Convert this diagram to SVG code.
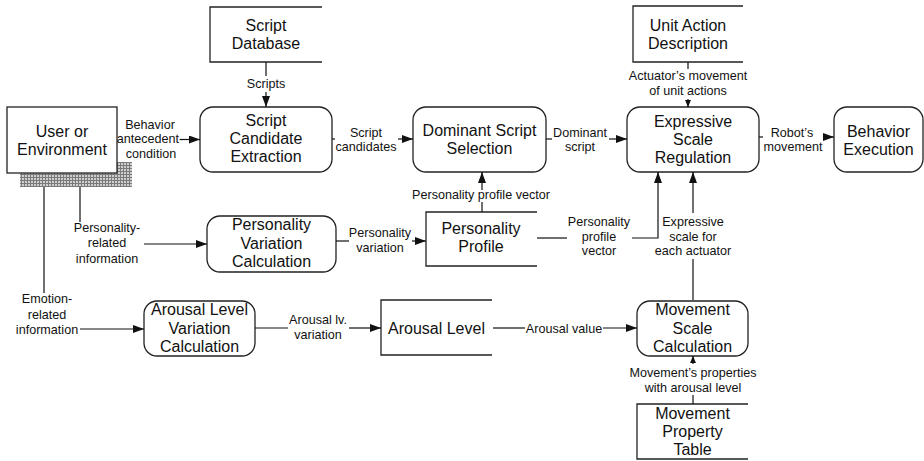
<svg xmlns="http://www.w3.org/2000/svg" width="924" height="461" viewBox="0 0 924 461">
<defs>
<style>
.box{fill:#fff;stroke:#222;stroke-width:1.3}
.ds{fill:none;stroke:#222;stroke-width:1.3}
.big{font-family:"Liberation Sans",Arial,sans-serif;font-size:16px;fill:#111;text-anchor:middle}
.lbl{font-family:"Liberation Sans",Arial,sans-serif;font-size:12.6px;fill:#111;text-anchor:middle}
.ln{fill:none;stroke:#111;stroke-width:1.2}
.ar{fill:none;stroke:#111;stroke-width:1.2;marker-end:url(#ah)}
.ars{fill:none;stroke:#111;stroke-width:1.2;marker-end:url(#ahs)}
</style>
<marker id="ah" markerUnits="userSpaceOnUse" markerWidth="12" markerHeight="9" refX="11" refY="4" orient="auto">
<path d="M0,0 L11,4 L0,8 z" fill="#111"/>
</marker>
<marker id="ahs" markerUnits="userSpaceOnUse" markerWidth="9" markerHeight="7" refX="7" refY="3" orient="auto">
<path d="M0,0 L7,3 L0,6 z" fill="#111"/>
</marker>
<pattern id="hatch" width="3" height="3" patternUnits="userSpaceOnUse">
<rect width="3" height="3" fill="#cfcfcf"/>
<rect width="3" height="1" fill="#7a7a7a"/>
<rect width="1" height="3" fill="#7a7a7a"/>
</pattern>
</defs>

<g id="user-env">
<rect x="20" y="162" width="112" height="25" fill="url(#hatch)"/>
<rect class="box" x="7" y="107" width="110" height="66"/>
<text class="big" x="62" y="137">User or</text>
<text class="big" x="62" y="155">Environment</text>
</g>

<g id="script-db">
<path class="ds" d="M322,7 H210 V62 H322"/>
<text class="big" x="266" y="31">Script</text>
<text class="big" x="266" y="49">Database</text>
</g>

<g id="script-candidate">
<rect class="box" x="200" y="107" width="132" height="65" rx="13"/>
<text class="big" x="266" y="126">Script</text>
<text class="big" x="266" y="144">Candidate</text>
<text class="big" x="266" y="162">Extraction</text>
</g>

<g id="dominant-script">
<rect class="box" x="413" y="107" width="133" height="65" rx="13"/>
<text class="big" x="479.5" y="136">Dominant Script</text>
<text class="big" x="479.5" y="154">Selection</text>
</g>

<g id="unit-action">
<path class="ds" d="M743,6 H633 V62 H743"/>
<text class="big" x="688" y="31">Unit Action</text>
<text class="big" x="688" y="49">Description</text>
</g>

<g id="expressive-scale">
<rect class="box" x="627" y="107" width="132" height="65" rx="13"/>
<text class="big" x="693" y="127">Expressive</text>
<text class="big" x="693" y="145">Scale</text>
<text class="big" x="693" y="163">Regulation</text>
</g>

<g id="behavior-exec">
<rect class="box" x="834" y="107" width="89" height="65" rx="13"/>
<text class="big" x="878.5" y="136.5">Behavior</text>
<text class="big" x="878.5" y="154.5">Execution</text>
</g>

<g id="personality-variation">
<rect class="box" x="207" y="216" width="129" height="56" rx="13"/>
<text class="big" x="271.5" y="230">Personality</text>
<text class="big" x="271.5" y="248.5">Variation</text>
<text class="big" x="271.5" y="267">Calculation</text>
</g>

<g id="personality-profile">
<path class="ds" d="M537,212 H426 V266 H537"/>
<text class="big" x="481" y="234">Personality</text>
<text class="big" x="481" y="252">Profile</text>
</g>

<g id="arousal-variation">
<rect class="box" x="144" y="301" width="111" height="55" rx="13"/>
<text class="big" x="199.5" y="315">Arousal Level</text>
<text class="big" x="199.5" y="333.5">Variation</text>
<text class="big" x="199.5" y="352">Calculation</text>
</g>

<g id="arousal-level">
<path class="ds" d="M492,300 H381 V355 H492"/>
<text class="big" x="436.5" y="334">Arousal Level</text>
</g>

<g id="movement-scale">
<rect class="box" x="637" y="301" width="111" height="55" rx="13"/>
<text class="big" x="692.5" y="315">Movement</text>
<text class="big" x="692.5" y="333.5">Scale</text>
<text class="big" x="692.5" y="352">Calculation</text>
</g>

<g id="movement-property">
<path class="ds" d="M748,404 H637 V459 H748"/>
<text class="big" x="692.5" y="419">Movement</text>
<text class="big" x="692.5" y="437">Property</text>
<text class="big" x="692.5" y="455">Table</text>
</g>

<g id="connectors">
<path class="ln" d="M266,62 V76"/>
<path class="ar" d="M266,92 V107"/>
<text class="lbl" x="266" y="88">Scripts</text>

<path class="ar" d="M180,139.5 H200"/>
<text class="lbl" x="150" y="128.5">Behavior</text>
<text class="lbl" x="150" y="143">antecedent-</text>
<text class="lbl" x="151" y="158">condition</text>

<path class="ln" d="M332,139 H335"/>
<path class="ar" d="M398,139 H413"/>
<text class="lbl" x="366" y="136.5">Script</text>
<text class="lbl" x="366" y="150.5">candidates</text>

<path class="ln" d="M546,139 H552"/>
<path class="ar" d="M609,139 H627"/>
<text class="lbl" x="580" y="136.5">Dominant</text>
<text class="lbl" x="580" y="150.5">script</text>

<path class="ln" d="M759,137 H763"/>
<path class="ar" d="M823,137 H834"/>
<text class="lbl" x="792" y="136.5">Robot’s</text>
<text class="lbl" x="793" y="150.5">movement</text>

<path class="ln" d="M688,62 V69"/>
<path class="ars" d="M688,99 V107"/>
<text class="lbl" x="688" y="80">Actuator’s movement</text>
<text class="lbl" x="688" y="95">of unit actions</text>

<path class="ln" d="M482,212 V202"/>
<path class="ar" d="M482,190 V172"/>
<text class="lbl" x="481" y="198.5">Personality profile vector</text>

<path class="ln" d="M336,241 H349"/>
<path class="ar" d="M412,241 H426"/>
<text class="lbl" x="380" y="237">Personality</text>
<text class="lbl" x="380" y="252">variation</text>

<path class="ln" d="M537,238 H567"/>
<path class="ar" d="M632,238 H658 V172"/>
<text class="lbl" x="599" y="226">Personality</text>
<text class="lbl" x="599" y="240.5">profile</text>
<text class="lbl" x="599" y="255">vector</text>

<path class="ln" d="M693,300 V259"/>
<path class="ar" d="M693,213 V172"/>
<text class="lbl" x="693" y="226">Expressive</text>
<text class="lbl" x="693" y="240.5">scale for</text>
<text class="lbl" x="693" y="255">each actuator</text>

<path class="ln" d="M255,328 H288"/>
<path class="ar" d="M349,328 H381"/>
<text class="lbl" x="318" y="324">Arousal lv.</text>
<text class="lbl" x="318" y="339">variation</text>

<path class="ln" d="M493,328 H525"/>
<path class="ar" d="M603,328 H637"/>
<text class="lbl" x="564" y="332.5">Arousal value</text>

<path class="ln" d="M693,404 V395"/>
<path class="ars" d="M693,364 V356"/>
<text class="lbl" x="693" y="377">Movement’s properties</text>
<text class="lbl" x="693" y="392">with arousal level</text>

<path class="ln" d="M80,187 V222"/>
<path class="ar" d="M144,244 H207"/>
<text class="lbl" x="107" y="232">Personality-</text>
<text class="lbl" x="107" y="247">related</text>
<text class="lbl" x="107" y="262.5">information</text>

<path class="ln" d="M44,187 V293"/>
<path class="ar" d="M80,329 H144"/>
<text class="lbl" x="47" y="303">Emotion-</text>
<text class="lbl" x="47" y="318.5">related</text>
<text class="lbl" x="47" y="334">information</text>
</g>
</svg>
